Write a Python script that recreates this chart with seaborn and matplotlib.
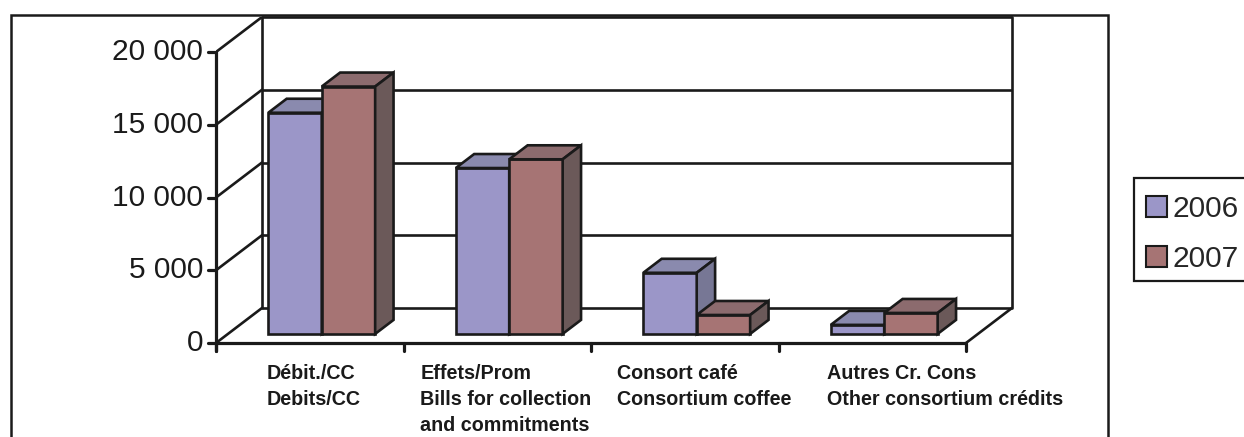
import numpy as np
import pandas as pd
import matplotlib
matplotlib.use("Agg")
import matplotlib.pyplot as plt
from matplotlib.patches import Polygon, Rectangle, Patch
from matplotlib import font_manager
import seaborn as sns

# ---- data -------------------------------------------------------------
categories = [
    "Débit./CC\nDebits/CC",
    "Effets/Prom\nBills for collection\nand commitments",
    "Consort café\nConsortium coffee",
    "Autres Cr. Cons\nOther consortium crédits",
]
years = ["2006", "2007"]
values_2006 = [15200, 11400, 4200, 620]
values_2007 = [17000, 12000, 1300, 1440]
y_ticks = [0, 5000, 10000, 15000, 20000]
y_tick_labels = ["0", "5 000", "10 000", "15 000", "20 000"]

# ---- styling ----------------------------------------------------------
front_colors = {"2006": "#9B96C8", "2007": "#A67474"}
top_colors = {"2006": "#8A8AAE", "2007": "#8C6B6E"}
side_colors = {"2006": "#777795", "2007": "#6B5959"}
label_shift = [-0.23, -0.41, -0.36, -0.24]   # left edge of each category label

sns.set_theme(style="white")
names = {f.name for f in font_manager.fontManager.ttflist}
narrow = "Liberation Sans Narrow" if "Liberation Sans Narrow" in names else "Liberation Sans"
label_size = 15 if narrow == "Liberation Sans Narrow" else 14.2
plt.rcParams["font.family"] = ["Liberation Sans", "DejaVu Sans"]

df = pd.DataFrame({
    "category": categories * 2,
    "year": [years[0]] * 4 + [years[1]] * 4,
    "value": values_2006 + values_2007,
})

W, H = 1244, 437
fig = plt.figure(figsize=(W / 100, H / 100), dpi=100)
fig.patch.set_facecolor("white")

k = "#1a1a1a"
# outer chart frame
fig.add_artist(Rectangle((11 / W, -0.05), (1108 - 11) / W, 1.05 - 15 / H,
                         transform=fig.transFigure, fill=False,
                         edgecolor=k, linewidth=1.8))

ax = fig.add_axes([216 / W, (H - 343) / H, (1012 - 216) / W, (343 - 17) / H])
ymax = 20000
DX = 46 / 187.5                 # depth offset along x (category units)
DY = 35 * ymax / 291            # depth offset along y (value units)

n = len(categories)
lw = 1.9

# front faces via seaborn, then pushed into depth and given top/side faces
sns.barplot(data=df, x="category", y="value", hue="year", order=categories,
            hue_order=years, palette=front_colors, width=0.57, ax=ax,
            edgecolor=k, linewidth=lw, saturation=1, legend=False, zorder=3)
ax.set_xlim(-0.5, 3.5 + DX)
ax.set_ylim(0, ymax + DY)
ax.axis("off")

# back wall gridlines, left wall diagonals
for v in y_ticks:
    ax.plot([-0.5 + DX, n - 0.5 + DX], [v + DY, v + DY], color=k, lw=lw, zorder=1,
            solid_capstyle="butt", clip_on=False)
    ax.plot([-0.5, -0.5 + DX], [v, v + DY], color=k, lw=lw, zorder=1)
ax.plot([-0.5 + DX, -0.5 + DX], [DY, ymax + DY], color=k, lw=lw, zorder=1, clip_on=False)
ax.plot([n - 0.5 + DX, n - 0.5 + DX], [DY, ymax + DY], color=k, lw=lw, zorder=1,
        clip_on=False)
# floor
ax.plot([n - 0.5, n - 0.5 + DX], [0, DY], color=k, lw=lw, zorder=1)
ax.plot([-0.5, n - 0.5], [0, 0], color=k, lw=2.3, zorder=6, clip_on=False,
        solid_capstyle="butt")
# front value axis
tick_len_y = 8 * ymax / 291
tick_len_x = 8 / 187.5
ax.plot([-0.5, -0.5], [-tick_len_y, ymax], color=k, lw=2.3, zorder=6, clip_on=False)
for v, lab in zip(y_ticks, y_tick_labels):
    ax.plot([-0.5 - tick_len_x, -0.5], [v, v], color=k, lw=2.3, zorder=6, clip_on=False)
    ax.text(-0.5 - 1.6 * tick_len_x, v, lab, ha="right", va="center",
            fontsize=21.5, color=k, clip_on=False)
for i in range(n + 1):
    ax.plot([i - 0.5, i - 0.5], [0, -tick_len_y], color=k, lw=2.3, zorder=6,
            clip_on=False)

f0 = 0.26      # bar front plane, fraction of depth
fd = 0.40      # bar depth, fraction of depth
bars = [p for p in ax.patches if isinstance(p, Rectangle)]
for j, yr in enumerate(years):
    for i in range(n):
        p = bars[j * n + i]
        x0, w, h = p.get_x(), p.get_width(), p.get_height()
        x0 += f0 * DX
        y0 = f0 * DY
        p.set_x(x0)
        p.set_y(y0)
        p.set_zorder(3 + j)
        ddx, ddy = fd * DX, fd * DY
        top = Polygon([(x0, y0 + h), (x0 + ddx, y0 + h + ddy),
                       (x0 + w + ddx, y0 + h + ddy), (x0 + w, y0 + h)],
                      closed=True, facecolor=top_colors[yr], edgecolor=k,
                      linewidth=lw, zorder=3 + j, joinstyle="miter")
        side = Polygon([(x0 + w, y0), (x0 + w + ddx, y0 + ddy),
                        (x0 + w + ddx, y0 + h + ddy), (x0 + w, y0 + h)],
                       closed=True, facecolor=side_colors[yr], edgecolor=k,
                       linewidth=lw, zorder=3 + j, joinstyle="miter")
        ax.add_patch(top)
        ax.add_patch(side)

# category labels
for i, lab in enumerate(categories):
    ax.text(i + label_shift[i], -21 * ymax / 291, lab, ha="left", va="top",
            multialignment="left", fontsize=label_size, fontweight="bold",
            family=[narrow, "DejaVu Sans"], color=k,
            linespacing=1.48, clip_on=False)

# legend (its box runs past the right edge of the canvas)
fig.add_artist(Rectangle((1134 / W, 1 - 281 / H), 140 / W, 103 / H,
                         transform=fig.transFigure, facecolor="white",
                         edgecolor=k, linewidth=1.6))
handles = [Patch(facecolor=front_colors[y], edgecolor=k, linewidth=1.5) for y in years]
leg = fig.legend(handles, years, loc="upper left",
                 bbox_to_anchor=(1137 / W, 1 - 186 / H), fontsize=21.5,
                 frameon=False, handlelength=0.7, handleheight=0.7,
                 handletextpad=0.2, borderpad=0.3, labelspacing=0.75,
                 borderaxespad=0)

fig.savefig("out.png", dpi=100)
